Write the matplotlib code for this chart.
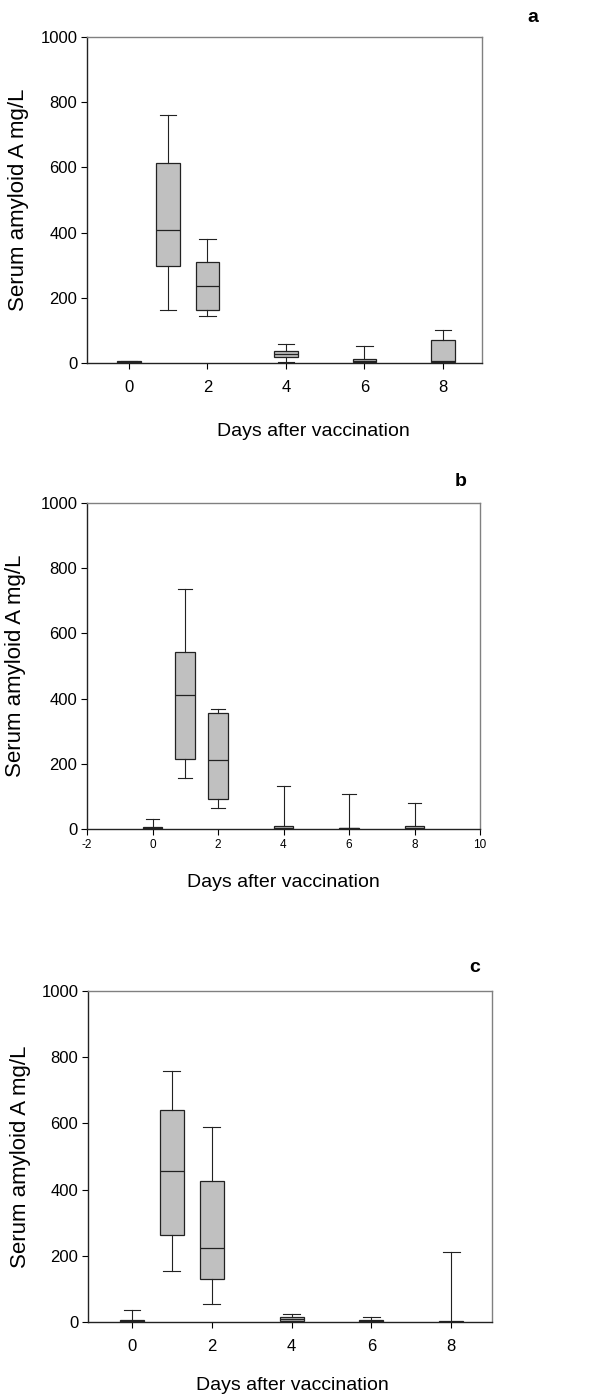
import matplotlib
matplotlib.use("Agg")
import matplotlib.pyplot as plt

plt.rcParams['font.family'] = ['Liberation Sans', 'DejaVu Sans']

days = [0, 1, 2, 4, 6, 8]

# Panel a: whisker low, Q1, median, Q3, whisker high
a_low = [0, 164, 145, 3, 0, 0]
a_q1 = [1, 298, 164, 19, 2, 2]
a_med = [3, 407, 235, 29, 5, 6]
a_q3 = [5, 613, 310, 37, 12, 71]
a_high = [7, 761, 380, 58, 52, 101]

# Panel b
b_low = [0, 156, 63, 0, 0, 0]
b_q1 = [1, 214, 91, 1, 1, 1]
b_med = [3, 410, 211, 4, 2, 3]
b_q3 = [5, 542, 355, 9, 3, 9]
b_high = [30, 736, 367, 131, 107, 81]

# Panel c
c_low = [0, 155, 55, 2, 0, 0]
c_q1 = [1, 263, 131, 4, 1, 0]
c_med = [3, 456, 223, 8, 3, 1]
c_q3 = [5, 639, 427, 16, 5, 2]
c_high = [37, 758, 589, 24, 16, 212]

y_ticks = [0, 200, 400, 600, 800, 1000]
x_ticks_ac = [0, 2, 4, 6, 8]
x_ticks_b = [-2, 0, 2, 4, 6, 8, 10]

fig = plt.figure(figsize=(6, 14), dpi=100)
W, H = 600, 1400

def add_axes(l, r, t, b):
    return fig.add_axes([l / W, 1 - b / H, (r - l) / W, (b - t) / H])

panels = [
    dict(box=(87, 482, 37, 363), xlim=(-1.07, 9.0), xticks=x_ticks_ac, small=False,
         data=(a_low, a_q1, a_med, a_q3, a_high), letter='a', lpos=(533, 17),
         xlab=(313, 432), ylabx=19),
    dict(box=(87, 480, 503, 829), xlim=(-2, 10), xticks=x_ticks_b, small=True,
         data=(b_low, b_q1, b_med, b_q3, b_high), letter='b', lpos=(461, 481),
         xlab=(283, 883), ylabx=16),
    dict(box=(88, 492, 991, 1322), xlim=(-1.1, 9.02), xticks=x_ticks_ac, small=False,
         data=(c_low, c_q1, c_med, c_q3, c_high), letter='c', lpos=(475, 967),
         xlab=(292, 1385), ylabx=21),
]

for p in panels:
    l, r, t, b = p['box']
    ax = add_axes(l, r, t, b)
    low, q1, med, q3, high = p['data']
    stats = []
    for i in range(len(days)):
        stats.append(dict(whislo=low[i], q1=q1[i], med=med[i], q3=q3[i],
                          whishi=high[i], fliers=[]))
    ax.bxp(stats, positions=days, widths=0.6, patch_artist=True,
           showfliers=False, capwidths=0.42, manage_ticks=False,
           boxprops=dict(facecolor='#c0c0c0', edgecolor='#222222', linewidth=0.9),
           medianprops=dict(color='#222222', linewidth=0.9),
           whiskerprops=dict(color='#222222', linewidth=0.8),
           capprops=dict(color='#222222', linewidth=0.8))
    ax.set_xlim(*p['xlim'])
    ax.set_ylim(0, 1000)
    ax.set_yticks(y_ticks)
    ax.set_xticks(p['xticks'])
    ax.set_xticklabels([str(v) for v in p['xticks']])
    for s in ['top', 'right']:
        ax.spines[s].set_color('#808080')
        ax.spines[s].set_linewidth(1.0)
    for s in ['left', 'bottom']:
        ax.spines[s].set_color('#222222')
        ax.spines[s].set_linewidth(1.0)
    ax.tick_params(axis='y', direction='out', length=4, width=0.8, labelsize=12, pad=3)
    if p['small']:
        ax.tick_params(axis='x', direction='out', length=4, width=0.8, labelsize=8.5, pad=3)
    else:
        ax.tick_params(axis='x', direction='out', length=4, width=0.8, labelsize=12, pad=8)
    fig.text(p['xlab'][0] / W, 1 - p['xlab'][1] / H, 'Days after vaccination',
             ha='center', va='center', fontsize=14)
    yc = (t + b) / 2
    fig.text(p['ylabx'] / W, 1 - yc / H, 'Serum amyloid A mg/L', rotation=90,
             ha='center', va='center', fontsize=16)
    fig.text(p['lpos'][0] / W, 1 - p['lpos'][1] / H, p['letter'], ha='center',
             va='center', fontsize=14, fontweight='bold')

fig.savefig('out.png', dpi=100)
